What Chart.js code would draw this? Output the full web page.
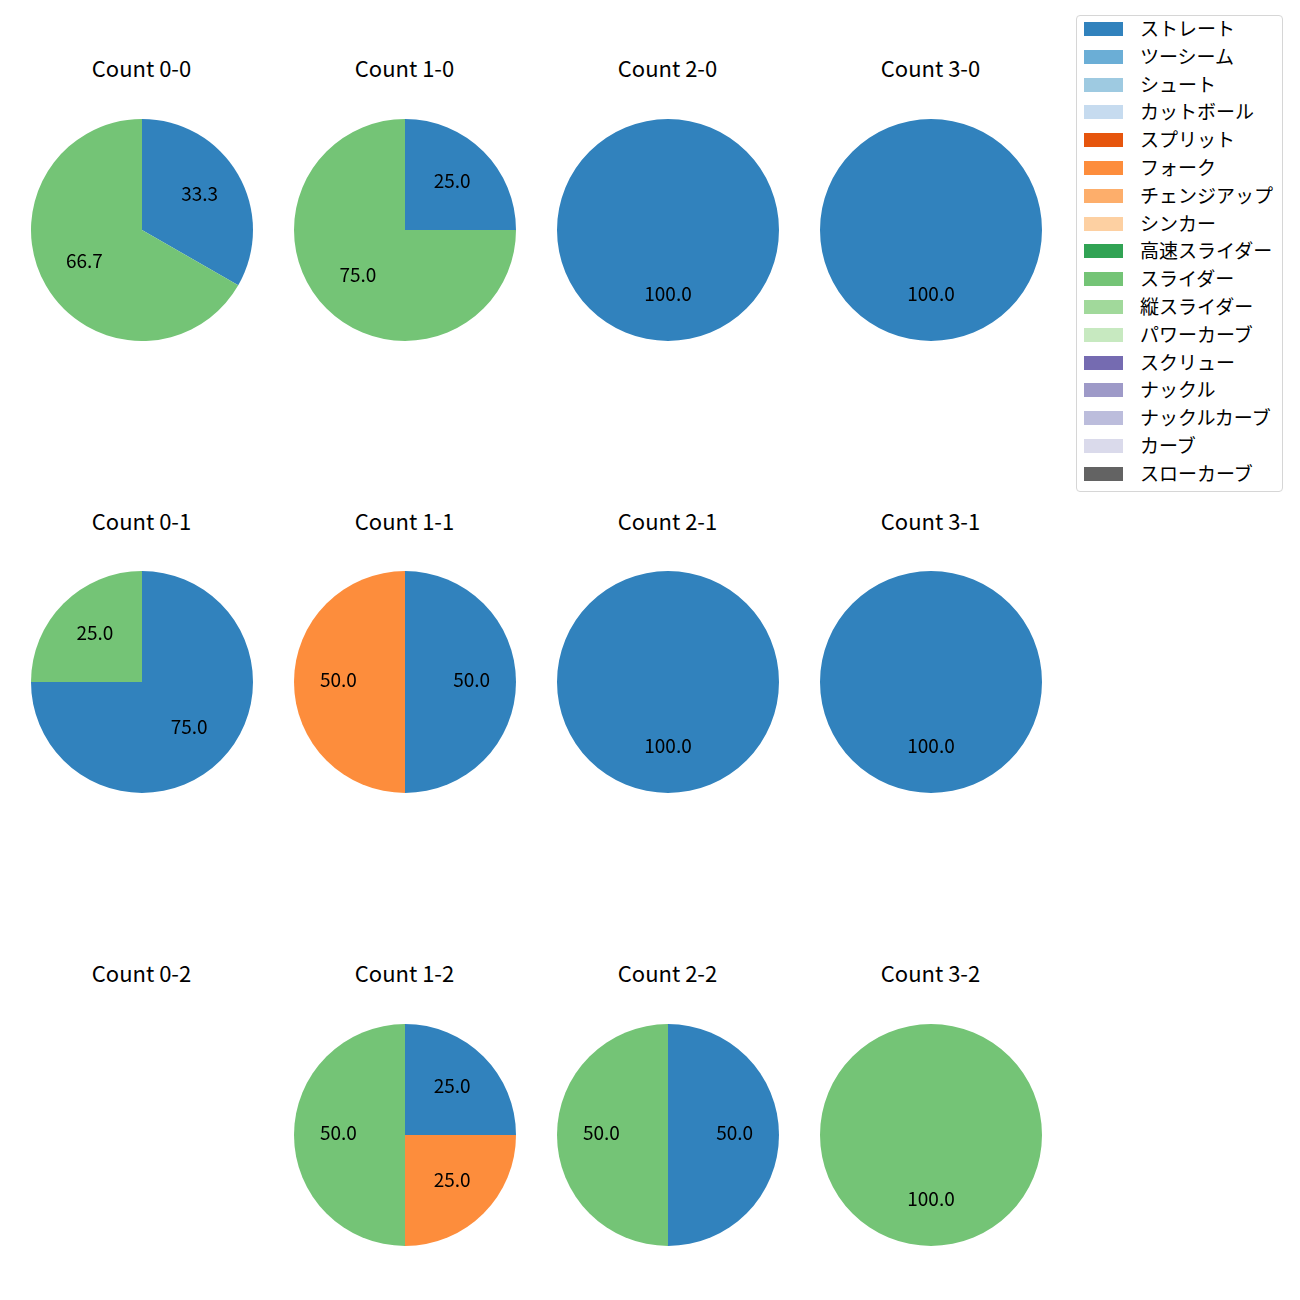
<!DOCTYPE html>
<html lang="ja">
<head>
    <meta charset="UTF-8">
    <title>Count pies</title>
    <script src="https://cdn.jsdelivr.net/npm/chart.js"></script>
    <style>
        body { margin: 0; background: #fff; font-family: "Noto Sans CJK JP", "Noto Sans", sans-serif; }
        #wrap { position: relative; width: 1300px; height: 1300px; }
        .title { position: absolute; width: 240px; text-align: center; font-size: 22px; color: #000; line-height: 1; }
        canvas { position: absolute; }
        #legend { position: absolute; left: 1076px; top: 15px; width: 205px; height: 475px; border: 1px solid #d6d6d6; border-radius: 4px; }
        .item { position: absolute; left: 7px; height: 20px; }
        .patch { position: absolute; left: 0; top: 3px; width: 39px; height: 14px; }
        .label { position: absolute; left: 56px; top: -5px; font-size: 19px; white-space: nowrap; color: #000; }
    </style>
</head>
<body>
<div id="wrap"><div id="legend"></div></div>
<script>
    const pitchTypes = ['ストレート', 'ツーシーム', 'シュート', 'カットボール', 'スプリット', 'フォーク', 'チェンジアップ', 'シンカー',
        '高速スライダー', 'スライダー', '縦スライダー', 'パワーカーブ', 'スクリュー', 'ナックル', 'ナックルカーブ', 'カーブ', 'スローカーブ'];
    const pitchColors = ['#3182bd', '#6baed6', '#9ecae1', '#c6dbef', '#e6550d', '#fd8d3c', '#fdae6b', '#fdd0a2',
        '#31a354', '#74c476', '#a1d99b', '#c7e9c0', '#756bb1', '#9e9ac8', '#bcbddc', '#dadaeb', '#636363'];

    // counts in order: balls-strikes
    const countLabels = ['0-0', '1-0', '2-0', '3-0', '0-1', '1-1', '2-1', '3-1', '0-2', '1-2', '2-2', '3-2'];
    const straightPct = [33.3, 25.0, 100.0, 100.0, 75.0, 50.0, 100.0, 100.0, 0, 25.0, 50.0, 0];
    const forkPct     = [0, 0, 0, 0, 0, 50.0, 0, 0, 0, 25.0, 0, 0];
    const sliderPct   = [66.7, 75.0, 0, 0, 25.0, 0, 0, 0, 0, 50.0, 50.0, 100.0];

    const colCenters = [141.5, 404.5, 667.5, 930.5];
    const rowCenters = [229.5, 682, 1134.5];
    const R = 111;

    const wrap = document.getElementById('wrap');

    // legend
    const legend = document.getElementById('legend');
    pitchTypes.forEach((name, i) => {
        const it = document.createElement('div');
        it.className = 'item';
        it.style.top = (3 + i * 27.8) + 'px';
        it.innerHTML = '<div class="patch" style="background:' + pitchColors[i] + '"></div><div class="label">' + name + '</div>';
        legend.appendChild(it);
    });

    const pctLabels = {
        id: 'pctLabels',
        afterDatasetsDraw(chart) {
            const ctx = chart.ctx;
            const meta = chart.getDatasetMeta(0);
            const data = chart.data.datasets[0].data;
            ctx.save();
            ctx.font = '19px "Noto Sans CJK JP", "Noto Sans", sans-serif';
            ctx.fillStyle = '#000';
            ctx.textAlign = 'center';
            ctx.textBaseline = 'middle';
            meta.data.forEach((arc, i) => {
                if (!data[i]) return;
                const p = arc.getProps(['x', 'y', 'startAngle', 'endAngle', 'outerRadius'], true);
                const mid = (p.startAngle + p.endAngle) / 2;
                const r = p.outerRadius * 0.6;
                ctx.fillText(data[i].toFixed(1), p.x + Math.cos(mid) * r, p.y + Math.sin(mid) * r - 2.5);
            });
            ctx.restore();
        }
    };

    countLabels.forEach((cnt, k) => {
        const col = k % 4, row = Math.floor(k / 4);
        const cx = colCenters[col], cy = rowCenters[row];

        const t = document.createElement('div');
        t.className = 'title';
        t.textContent = 'Count ' + cnt;
        t.style.left = (cx - 120) + 'px';
        t.style.top = (cy - 173.5) + 'px';
        wrap.appendChild(t);

        const values = pitchTypes.map(() => 0);
        values[0] = straightPct[k];
        values[5] = forkPct[k];
        values[9] = sliderPct[k];
        if (values.every(v => v === 0)) return;

        const cv = document.createElement('canvas');
        cv.width = 2 * R; cv.height = 2 * R;
        cv.style.left = (cx - R) + 'px';
        cv.style.top = (cy - R) + 'px';
        wrap.appendChild(cv);

        new Chart(cv, {
            type: 'pie',
            data: {
                labels: pitchTypes,
                datasets: [{ data: values, backgroundColor: pitchColors, borderWidth: 0 }]
            },
            options: {
                responsive: false,
                animation: false,
                layout: { padding: 0 },
                plugins: { legend: { display: false }, tooltip: { enabled: false } }
            },
            plugins: [pctLabels]
        });
    });
</script>
</body>
</html>
